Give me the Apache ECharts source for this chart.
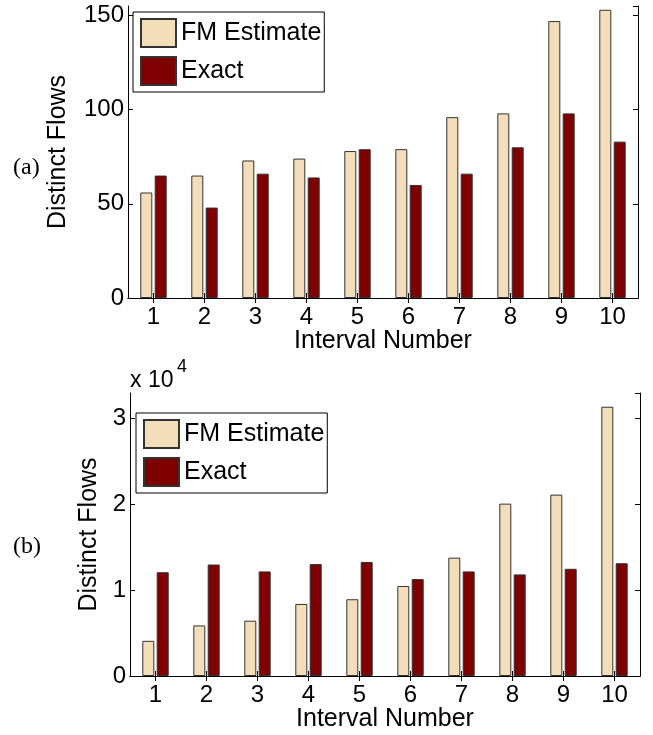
<!DOCTYPE html>
<html>
<head>
<meta charset="utf-8">
<script src="https://cdn.jsdelivr.net/npm/echarts@6/dist/echarts.min.js"></script>
<style>
  html, body { margin: 0; padding: 0; background: #fff; }
  #main { width: 653px; height: 735px; }
</style>
</head>
<body>
<div id="main"></div>
<script>
// data
const intervals = ['1', '2', '3', '4', '5', '6', '7', '8', '9', '10'];
const fmA = [56, 65, 73, 74, 78, 79, 96, 98, 147, 153];
const exactA = [65, 48, 66, 64, 79, 60, 66, 80, 98, 83];
const fmB = [4100, 5900, 6450, 8400, 8950, 10500, 13800, 20100, 21150, 31400];
const exactB = [12100, 13000, 12200, 13050, 13300, 11300, 12200, 11850, 12500, 13150];

const FONT = 'Liberation Sans, Arial, sans-serif';
const fmColor = '#F3DEB9';
const exactColor = '#7F0000';

let myChart = echarts.init(document.getElementById('main'));

function catAxis(gridIndex, top) {
    return {
        type: 'category',
        gridIndex: gridIndex,
        position: top ? 'top' : 'bottom',
        data: intervals,
        name: top ? '' : 'Interval Number',
        nameLocation: 'middle',
        nameGap: 31,
        nameMoveOverlap: false,
        nameTextStyle: { fontFamily: FONT, fontSize: 25, color: '#000' },
        axisLine: { show: true, lineStyle: { color: '#000', width: 1 } },
        axisTick: { show: true, inside: true, alignWithLabel: true, length: 5, lineStyle: { color: '#000' } },
        axisLabel: { show: !top, fontFamily: FONT, fontSize: 24, color: '#000', margin: 7 },
        splitLine: { show: false }
    };
}

function valAxis(gridIndex, right, max, interval, fmt, nameGap) {
    return {
        type: 'value',
        gridIndex: gridIndex,
        position: right ? 'right' : 'left',
        min: 0,
        max: max,
        interval: interval,
        name: right ? '' : 'Distinct Flows',
        nameLocation: 'middle',
        nameGap: nameGap,
        nameRotate: 90,
        nameMoveOverlap: false,
        nameTextStyle: { fontFamily: FONT, fontSize: 25, color: '#000' },
        axisLine: { show: true, lineStyle: { color: '#000', width: 1 } },
        axisTick: { show: true, inside: true, length: 5, lineStyle: { color: '#000' } },
        axisLabel: {
            show: !right, showMaxLabel: false,
            fontFamily: FONT, fontSize: 24, color: '#000', margin: 4, formatter: fmt
        },
        splitLine: { show: false }
    };
}

function legendAt(left, top) {
    return {
        data: ['FM Estimate', 'Exact'],
        orient: 'vertical',
        left: left,
        top: top,
        icon: 'rect',
        itemWidth: 35,
        itemHeight: 28,
        itemGap: 8,
        padding: [6, 3, 6, 7],
        borderColor: '#000',
        borderWidth: 1,
        backgroundColor: '#fff',
        selectedMode: false,
        textStyle: { fontFamily: FONT, fontSize: 25, lineHeight: 28, color: '#000' }
    };
}

function bar(name, data, axis, color) {
    return {
        name: name,
        type: 'bar',
        xAxisIndex: axis,
        yAxisIndex: axis,
        data: data,
        barWidth: 12,
        barGap: '20%',
        itemStyle: { color: color, borderColor: '#333', borderWidth: 1 },
        silent: true
    };
}

let option = {
    animation: false,
    backgroundColor: '#fff',
    grid: [
        { left: 128, top: 6, width: 510, height: 292 },
        { left: 130, top: 393, width: 510, height: 283 }
    ],
    xAxis: [catAxis(0, false), catAxis(0, true), catAxis(1, false), catAxis(1, true)],
    yAxis: [
        valAxis(0, false, 155, 50, null, 57),
        valAxis(0, true, 155, 50, null, 0),
        valAxis(1, false, 33000, 10000, function (v) { return v / 10000; }, 28),
        valAxis(1, true, 33000, 10000, null, 0)
    ],
    legend: [legendAt(133, 12), legendAt(136, 413)],
    series: [
        bar('FM Estimate', fmA, 0, fmColor),
        bar('Exact', exactA, 0, exactColor),
        bar('FM Estimate', fmB, 2, fmColor),
        bar('Exact', exactB, 2, exactColor)
    ],
    graphic: [
        { type: 'text', left: 13, top: 156, style: { text: '(a)', font: '24px Liberation Serif, Times New Roman, serif', fill: '#000' } },
        { type: 'text', left: 13, top: 535, style: { text: '(b)', font: '24px Liberation Serif, Times New Roman, serif', fill: '#000' } },
        { type: 'text', left: 130, top: 369, style: { text: 'x 10', font: '23px ' + FONT, fill: '#000' } },
        { type: 'text', left: 177, top: 358, style: { text: '4', font: '18px ' + FONT, fill: '#000' } }
    ]
};

myChart.setOption(option);
</script>
</body>
</html>
